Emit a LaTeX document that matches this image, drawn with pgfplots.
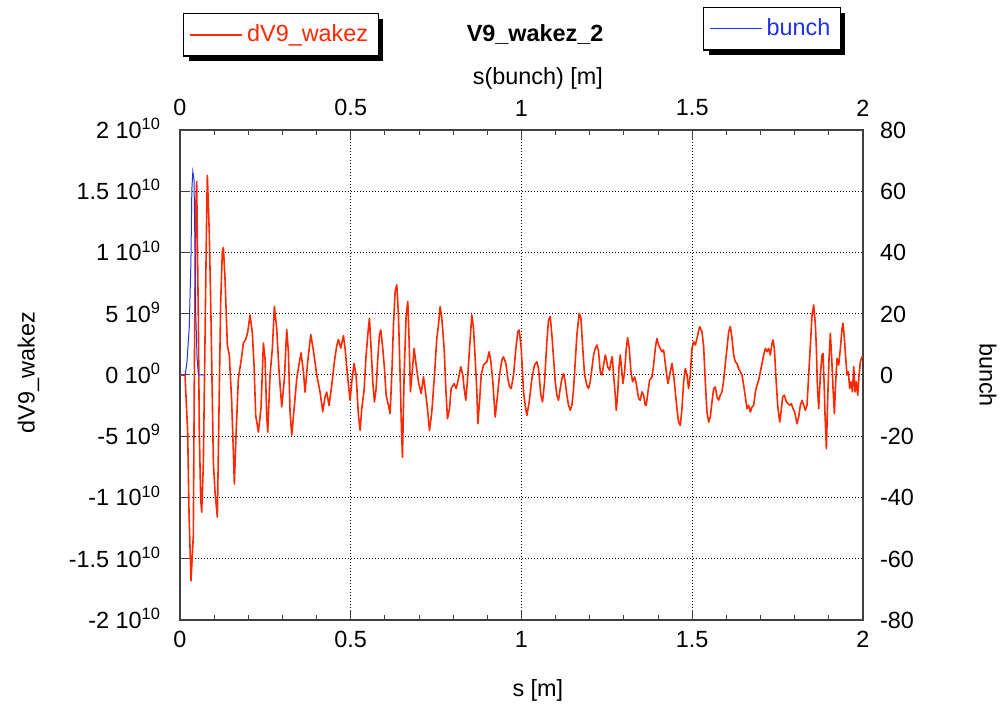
\documentclass[border=0pt]{standalone}
\usepackage{pgfplots}
\usepackage{pgfplotstable}
\pgfplotsset{compat=1.18}
\usepackage{fontspec}
\setmainfont{Liberation Sans}
\usetikzlibrary{shadows}
\definecolor{wred}{RGB}{255,40,0}
\definecolor{wblue}{RGB}{30,50,230}
\definecolor{frame}{RGB}{64,64,64}
\newcommand{\fs}{\fontsize{11.7}{14}\selectfont}
\makeatletter
\tikzset{no preaction/.code={\let\tikz@preactions\pgfutil@empty}}
\makeatother

% dV9_wakez in units of 1e9
\pgfplotstableread{
s v
0 0
0.0147 0
0.0225 -4.66
0.0264 -11.2
0.0322 -16.8
0.0391 -13.1
0.042 0
0.0459 13.4
0.0488 15.8
0.0537 4.6
0.0566 -4.66
0.0606 -10.1
0.0635 -11.2
0.0684 -7.25
0.0733 3.0
0.0781 13.1
0.0801 16.3
0.0859 11.5
0.0908 4.6
0.0977 -7.1
0.1026 -9.6
0.1094 -11.6
0.1143 -2.7
0.1192 6.0
0.1240 10.1
0.1270 10.4
0.1318 7.9
0.1387 2.4
0.1445 1.6
0.1514 -2.2
0.1563 -6.3
0.1592 -8.9
0.1641 -4.9
0.1709 -0.3
0.1807 1.5
0.1856 2.6
0.1924 2.9
0.1983 3.5
0.2051 4.9
0.2119 3.4
0.2168 0.8
0.2217 -3.3
0.2295 -4.66
0.2373 -2.7
0.2442 2.6
0.2490 1.35
0.2539 -3.3
0.2569 -4.66
0.2637 0
0.2705 2.2
0.2764 5.6
0.2832 3.8
0.2901 0.26
0.2979 -2.6
0.3057 -0.3
0.3125 3.7
0.3174 1.9
0.3223 -3.0
0.3272 -4.9
0.3350 -2.5
0.3418 -0.3
0.3487 0.9
0.3545 1.8
0.3614 0.26
0.3662 -1.4
0.3741 1.1
0.3829 3.3
0.3907 2.0
0.4004 0
0.4102 -1.4
0.4180 -3.0
0.4248 -1.8
0.4297 -1.4
0.4366 -2.5
0.4444 -0.8
0.4522 1.1
0.4590 2.4
0.4639 2.9
0.4708 2.2
0.4786 3.21
0.4834 2.17
0.4903 0
0.4981 -2.06
0.5030 -0.56
0.5098 0.94
0.5157 0
0.5225 -3.29
0.5274 -4.52
0.5323 -2.75
0.5391 -1.24
0.5450 1.63
0.5499 3.27
0.5547 4.63
0.5596 2.17
0.5645 -0.56
0.5694 -2.2
0.5743 -1.11
0.5792 1.35
0.5840 3.27
0.5880 3.68
0.5938 2.17
0.5987 0.53
0.6036 -1.65
0.6104 -2.47
0.6153 -3.16
0.6202 0
0.6251 4.09
0.6300 6.82
0.6348 7.36
0.6397 4.9
0.6446 0
0.6485 -4.39
0.6514 -6.71
0.6563 0
0.6622 4.9
0.6671 6.0
0.6710 2.72
0.6749 -1.38
0.6807 0.53
0.6856 2.17
0.6915 0.81
0.6983 -0.56
0.7061 -1.52
0.7130 -0.15
0.7178 -1.11
0.7247 -2.75
0.7305 -4.52
0.7374 -3.02
0.7452 0
0.7520 2.99
0.7569 4.09
0.7618 5.59
0.7667 4.63
0.7735 2.17
0.7784 -1.11
0.7833 -3.57
0.7892 -2.75
0.7940 -1.11
0.8028 -0.7
0.8087 -1.11
0.8155 -0.29
0.8224 0.67
0.8282 0
0.8321 -1.11
0.8370 -2.06
0.8429 0
0.8478 2.17
0.8546 4.9
0.8595 3.81
0.8644 1.35
0.8693 -1.38
0.8722 -3.98
0.8771 -2.2
0.8820 0
0.8888 0.81
0.8986 1.08
0.9054 1.9
0.9103 1.08
0.9161 -0.56
0.9200 -2.2
0.9230 -3.43
0.9298 -1.65
0.9357 0
0.9425 1.22
0.9474 1.49
0.9542 0.94
0.9601 -0.29
0.9650 -0.97
0.9698 -1.11
0.9767 0
0.9835 2.17
0.9894 3.54
0.9933 3.68
0.9992 2.17
1.0060 -1.38
1.0109 -2.47
1.0158 -3.29
1.0226 -2.2
1.0304 -0.29
1.0382 0.81
1.0450 1.08
1.0499 0.53
1.0568 -1.65
1.0616 -2.2
1.0675 -0.56
1.0743 2.72
1.0792 4.49
1.0841 4.77
1.0890 3.27
1.0939 1.35
1.0988 -0.56
1.1036 -1.65
1.1085 -2.06
1.1134 -1.11
1.1183 -0.29
1.1232 0.12
1.1281 -0.56
1.1329 -1.65
1.1378 -2.47
1.1427 -2.88
1.1476 -2.47
1.1525 -1.11
1.1574 1.08
1.1622 3.27
1.1691 5.04
1.1740 4.63
1.1788 2.45
1.1847 0
1.1915 -0.84
1.1964 -1.11
1.2013 -0.56
1.2062 0.53
1.2111 1.63
1.2160 2.17
1.2208 2.45
1.2257 1.9
1.2306 0.26
1.2355 0
1.2404 0.81
1.2453 1.63
1.2482 1.35
1.2521 0.67
1.2580 0.4
1.2619 1.08
1.2658 1.49
1.2697 0
1.2746 -1.65
1.2775 -2.88
1.2814 -1.65
1.2853 0.53
1.2892 1.63
1.2931 0.53
1.2970 -0.7
1.3019 0.26
1.3068 2.17
1.3107 3.05
1.3156 2.17
1.3205 0.26
1.3253 -0.56
1.3312 -0.15
1.3361 -0.7
1.3429 -1.93
1.3478 -2.06
1.3527 -1.38
1.3576 -1.65
1.3625 -2.47
1.3654 -2.47
1.3703 -1.38
1.3752 -0.42
1.3820 -0.15
1.3869 0.81
1.3918 2.17
1.3966 2.99
1.4015 2.45
1.4064 2.17
1.4113 1.9
1.4162 2.04
1.4211 0.94
1.4259 -0.15
1.4289 -0.7
1.4338 0
1.4406 0.94
1.4455 0
1.4504 -1.38
1.4552 -2.75
1.4601 -3.84
1.4650 -4.11
1.4699 -2.75
1.4748 -0.56
1.4797 0.53
1.4845 0
1.4894 -1.11
1.4943 0
1.4992 2.17
1.5041 2.72
1.5090 2.45
1.5138 2.99
1.5216 3.95
1.5285 3.54
1.5334 2.31
1.5383 -0.56
1.5431 -3.02
1.5480 -3.84
1.5529 -3.43
1.5578 -2.2
1.5627 -1.11
1.5676 -0.97
1.5724 -1.79
1.5773 -2.06
1.5822 -1.65
1.5871 -1.38
1.5920 -0.42
1.5969 0.94
1.6017 2.17
1.6066 3.54
1.6115 3.95
1.6164 2.99
1.6213 1.63
1.6262 1.08
1.6310 0.94
1.6359 0.53
1.6408 0.26
1.6457 0
1.6506 -0.84
1.6555 -1.79
1.6603 -2.75
1.6652 -2.47
1.6701 -3.02
1.6750 -2.61
1.6799 -2.47
1.6848 -1.38
1.6896 -0.84
1.6945 -0.42
1.6994 0.26
1.7043 0.94
1.7092 1.63
1.7141 2.17
1.7189 1.9
1.7238 2.17
1.7287 1.63
1.7336 2.58
1.7365 2.86
1.7404 2.17
1.7453 -0.29
1.7502 -2.47
1.7561 -3.84
1.7600 -3.02
1.7648 -1.79
1.7697 -1.65
1.7756 -2.2
1.7805 -2.34
1.7854 -2.47
1.7902 -2.34
1.7951 -2.75
1.8000 -3.02
1.8068 -3.98
1.8117 -3.43
1.8166 -2.47
1.8215 -2.06
1.8264 -2.47
1.8313 -2.88
1.8361 -2.47
1.8410 0
1.8459 2.45
1.8508 4.9
1.8557 5.72
1.8606 4.09
1.8635 2.17
1.8664 -0.84
1.8703 -2.75
1.8752 0
1.8801 1.63
1.8830 1.76
1.8860 -0.56
1.8889 -3.29
1.8928 -6.02
1.8967 -1.93
1.9006 1.35
1.9045 3.4
1.9084 1.35
1.9123 -1.11
1.9162 -3.16
1.9201 -0.56
1.9240 1.35
1.9289 0.81
1.9338 2.17
1.9387 3.81
1.9416 4.22
1.9455 2.99
1.9494 1.35
1.9533 0
1.9572 0.26
1.9611 -1.11
1.9650 -0.56
1.9690 -1.38
1.9729 0.67
1.9768 -1.38
1.9807 -0.56
1.9846 -1.65
1.9885 0
1.9924 1.08
1.9973 1.49
2.0 1.6
}\wake

\pgfplotstableread{
s b
0 0
0.015 0
0.020 3.8
0.027 15.2
0.032 37.1
0.0347 60.6
0.0376 66.4
0.041 63.9
0.0435 44.8
0.046 20.7
0.0498 6.0
0.054 0
0.0733 0
}\bunch

\begin{document}
\begin{tikzpicture}
\pgfplotsset{
  common/.style={
    width=341.5pt, height=245pt, scale only axis,
    at={(0,0)}, anchor=south west,
    xmin=0, xmax=2,
    xtick={0,0.5,1,1.5,2},
    xticklabels={0,0.5,1,1.5,2},
    minor x tick num=4,
    tick align=inside,
    major tick length=5pt, minor tick length=2.5pt,
    every tick/.style={frame, line width=0.5pt},
    tick label style={font=\fs},
    label style={font=\fs},
    legend image code/.code={\path[no preaction] (0pt,0pt) -- (26pt,0pt);\draw[no preaction,##1] (1.5pt,0pt) -- (24pt,0pt);},
  },
  lgd/.style={
    draw=black, line width=0.6pt, fill=white, font=\fs,
    inner xsep=3pt, inner ysep=3.6pt,
    drop shadow={shadow xshift=2.5pt, shadow yshift=-2.5pt, fill=black, opacity=1},
    anchor=north west,
  },
}
\begin{axis}[common,
  ymin=-20, ymax=20,
  ytick={-20,-15,...,20},
  yticklabels={-2 10\textsuperscript{10},-1.5 10\textsuperscript{10},-1 10\textsuperscript{10},-5 10\textsuperscript{9},0 10\textsuperscript{0},5 10\textsuperscript{9},1 10\textsuperscript{10},1.5 10\textsuperscript{10},2 10\textsuperscript{10}},
  xtick pos=left, ytick pos=left,
  axis line style={frame, line width=1pt},
  grid=major,
  major grid style={black, line width=0.5pt, dash pattern=on 0.5pt off 1pt},
  xticklabel style={yshift=-2pt},
  yticklabel style={anchor=base east, yshift=-4.2pt, xshift=-6pt},
  xlabel={s [m]},
  xlabel style={at={(axis description cs:0.524,0)}, anchor=center, yshift=-35pt},
  ylabel={dV9\_wakez},
  ylabel style={at={(axis description cs:-0.222,0.505)}, anchor=center},
  title={\bfseries V9\_wakez\_2},
  title style={at={(axis description cs:0.52,1)}, anchor=center, yshift=42pt, font=\fs},
  legend style={lgd, text=wred, at={(axis description cs:0.0044,1.2388)}},
]
\addplot[wred, line width=0.8pt, sharp plot, no markers, line join=round] table[x=s, y=v] {\wake};
\addlegendentry{dV9\_wakez}
\end{axis}
\begin{axis}[common,
  ymin=-80, ymax=80,
  ytick={-80,-60,...,80},
  yticklabels={-80,-60,-40,-20,0,20,40,60,80},
  xtick pos=right, ytick pos=right,
  xticklabel pos=right, yticklabel pos=right,
  axis line style={draw=none},
  ytick style={draw=none},
  xticklabel style={yshift=3.4pt},
  yticklabel style={anchor=base west, yshift=-4.2pt, xshift=5pt},
  xlabel={s(bunch) [m]},
  xlabel style={at={(axis description cs:0.524,1)}, anchor=center, yshift=26pt},
  ylabel={bunch},
  ylabel style={at={(axis description cs:1.183,0.5)}, anchor=center, rotate=180},
  legend style={lgd, text=wblue, at={(axis description cs:0.7657,1.251)}},
]
\addplot[wblue, line width=0.5pt, sharp plot, no markers] table[x=s, y=b] {\bunch};
\addlegendentry{bunch}
\end{axis}
\pgfresetboundingbox
\path[use as bounding box] (-90pt,-42pt) rectangle (411.5pt,310pt);
\end{tikzpicture}
\end{document}
